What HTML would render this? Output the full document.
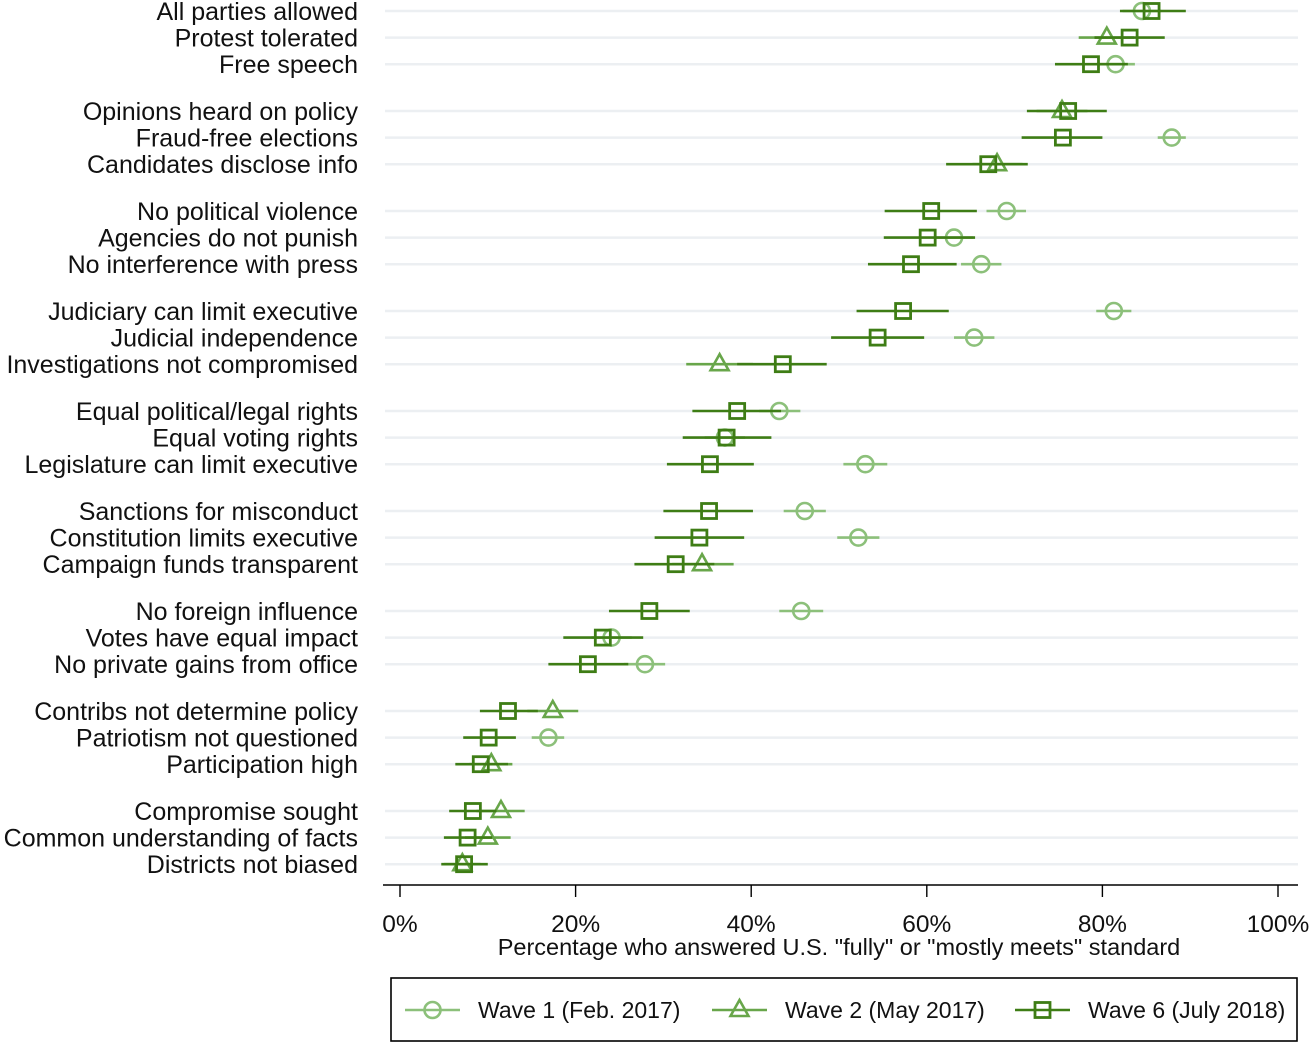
<!DOCTYPE html>
<html><head><meta charset="utf-8">
<style>
html,body{margin:0;padding:0;background:#fff;}
svg{display:block;font-family:"Liberation Sans",Arial,sans-serif;}
</style></head>
<body>
<svg id="chart" width="1312" height="1044" viewBox="0 0 1312 1044" xmlns="http://www.w3.org/2000/svg"></svg>
<script>
const categories = ["All parties allowed","Protest tolerated","Free speech",
"Opinions heard on policy","Fraud-free elections","Candidates disclose info",
"No political violence","Agencies do not punish","No interference with press",
"Judiciary can limit executive","Judicial independence","Investigations not compromised",
"Equal political/legal rights","Equal voting rights","Legislature can limit executive",
"Sanctions for misconduct","Constitution limits executive","Campaign funds transparent",
"No foreign influence","Votes have equal impact","No private gains from office",
"Contribs not determine policy","Patriotism not questioned","Participation high",
"Compromise sought","Common understanding of facts","Districts not biased"];
// Wave 1 (circle) estimate, lower, upper
const w1Val = [84.5,null,81.5,null,87.9,null,69.1,63.1,66.2,81.3,65.4,null,43.2,37.0,53.0,46.1,52.2,null,45.7,24.1,27.9,null,16.9,null,null,null,null];
const w1Lo  = [82.3,null,79.3,null,86.3,null,66.8,60.8,63.9,79.3,63.1,null,40.9,34.7,50.5,43.7,49.8,null,43.2,21.8,25.5,null,15.0,null,null,null,null];
const w1Hi  = [86.7,null,83.7,null,89.5,null,71.3,65.3,68.5,83.3,67.7,null,45.6,39.3,55.5,48.5,54.6,null,48.2,26.4,30.2,null,18.7,null,null,null,null];
// Wave 2 (triangle)
const w2Val = [null,80.5,null,75.4,null,68.0,null,null,null,null,null,36.4,null,null,null,null,null,34.4,null,null,null,17.4,null,10.4,11.5,10.0,7.1];
const w2Lo  = [null,77.3,null,72.5,null,65.2,null,null,null,null,null,32.6,null,null,null,null,null,31.0,null,null,null,14.5,null,7.9,8.7,7.4,5.0];
const w2Hi  = [null,83.6,null,78.3,null,70.9,null,null,null,null,null,40.2,null,null,null,null,null,38.0,null,null,null,20.3,null,12.8,14.2,12.6,9.2];
// Wave 6 (square)
const w6Val = [85.6,83.1,78.7,76.1,75.5,67.0,60.5,60.1,58.2,57.3,54.4,43.6,38.4,37.2,35.3,35.2,34.1,31.4,28.4,23.1,21.4,12.3,10.1,9.2,8.3,7.7,7.3];
const w6Lo  = [82.0,79.1,74.6,71.4,70.8,62.2,55.2,55.1,53.3,52.0,49.1,38.4,33.3,32.2,30.4,30.0,29.0,26.7,23.8,18.6,16.9,9.1,7.2,6.3,5.6,5.0,4.7];
const w6Hi  = [89.5,87.1,82.9,80.5,80.0,71.5,65.7,65.5,63.4,62.5,59.7,48.6,43.4,42.3,40.3,40.2,39.2,35.8,33.0,27.7,26.0,15.7,13.2,12.3,11.0,10.5,10.0];
const xTicks = [0,20,40,60,80,100];
const xTickLabels = ["0%","20%","40%","60%","80%","100%"];

const svg = document.getElementById('chart');
const NS = "http://www.w3.org/2000/svg";
const X0 = 400, X1 = 1278, GL = 385, GR = 1298;
function xs(v){ return X0 + (X1 - X0) * v / 100; }
function ys(i){ const g = Math.floor(i/3), k = i%3; return 11 + g*100 + k*26.6; }
function mk(tag, attrs, parent){
  const e = document.createElementNS(NS, tag);
  for (const k in attrs) e.setAttribute(k, attrs[k]);
  (parent || svg).appendChild(e);
  return e;
}
const C1 = "#8cc07a", C2 = "#68a64a", C6 = "#3e7d15";

const grid = mk('g', {});


const labels = mk('g', {});


categories.forEach((c, i) => {
  const y = ys(i);
  const l = mk('line', {x1:GL, x2:GR, y1:y, y2:y, stroke:"#eceff2", 'stroke-width':2.5}, grid);
  
  
  const t = mk('text', {x:358, y:y+9, 'text-anchor':'end', 'font-size':25, fill:'#111'}, labels);
  t.textContent = c;
  
  
});

function marker(type, x, y, color, parent){
  let e;
  if (type === 'circle') e = mk('circle', {cx:x, cy:y, r:8, fill:'none', stroke:color, 'stroke-width':2.6}, parent);
  else if (type === 'tri') e = mk('polygon', {points:`${x},${y-10} ${x-9},${y+6} ${x+9},${y+6}`, fill:'none', stroke:color, 'stroke-width':2.6}, parent);
  else e = mk('rect', {x:x-7.5, y:y-7.5, width:15, height:15, fill:'none', stroke:color, 'stroke-width':2.8}, parent);
  return e;
}
function series(name, vals, lo, hi, color, type){
  const g = mk('g', {});
  
  
  vals.forEach((v, i) => {
    if (v === null) return;
    const y = ys(i);
    const b = mk('line', {x1:xs(lo[i]), x2:xs(hi[i]), y1:y, y2:y, stroke:color, 'stroke-width':2.6}, g);
    
    
    const m = marker(type, xs(v), y, color, g);
    
    
  });
}
series('series-wave-1', w1Val, w1Lo, w1Hi, C1, 'circle');
series('series-wave-2', w2Val, w2Lo, w2Hi, C2, 'tri');
series('series-wave-6', w6Val, w6Lo, w6Hi, C6, 'square');

const ax = mk('g', {});


mk('line', {x1:383, x2:1298, y1:885, y2:885, stroke:'#000', 'stroke-width':1.6}, ax);
xTicks.forEach((v, i) => {
  mk('line', {x1:xs(v), x2:xs(v), y1:885, y2:897, stroke:'#000', 'stroke-width':1.4}, ax);
  const t = mk('text', {x:xs(v), y:932, 'text-anchor':'middle', 'font-size':24.5, fill:'#111'}, ax);
  t.textContent = xTickLabels[i];
  
  
});
const xt = mk('text', {x:839, y:955, 'text-anchor':'middle', 'font-size':23.5, fill:'#111'});
xt.textContent = 'Percentage who answered U.S. "fully" or "mostly meets" standard';



const lg = mk('g', {});


mk('rect', {x:391, y:978, width:906, height:63, fill:'#fff', stroke:'#000', 'stroke-width':1.6}, lg);
const items = [["Wave 1 (Feb. 2017)", C1, 'circle', 405],["Wave 2 (May 2017)", C2, 'tri', 712],["Wave 6 (July 2018)", C6, 'square', 1015]];
items.forEach(it => {
  const g = mk('g', {}, lg);
  
  
  const y = 1010;
  mk('line', {x1:it[3], x2:it[3]+55, y1:y, y2:y, stroke:it[1], 'stroke-width':2.6}, g);
  marker(it[2], it[3]+27.5, y, it[1], g);
  const t = mk('text', {x:it[3]+73, y:y+8, 'font-size':23, fill:'#111'}, g);
  t.textContent = it[0];
});
</script>
</body></html>
